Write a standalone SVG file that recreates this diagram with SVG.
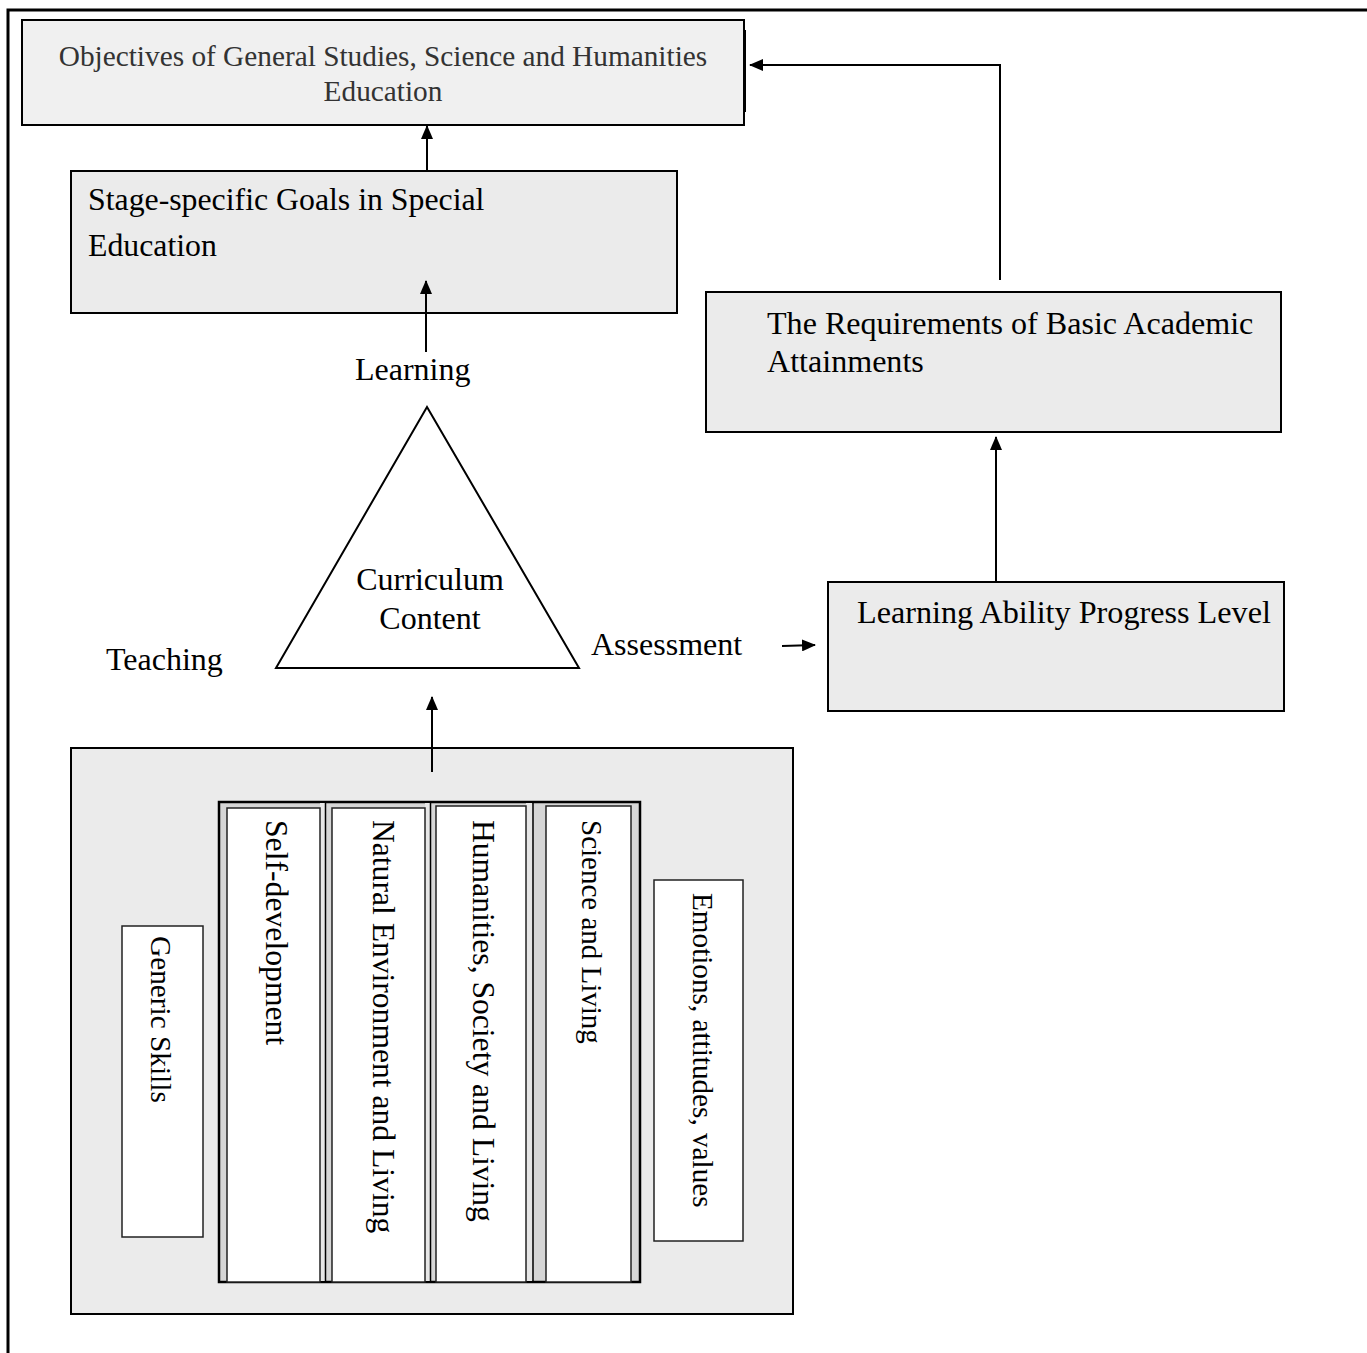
<svg xmlns="http://www.w3.org/2000/svg" width="1367" height="1353" viewBox="0 0 1367 1353">
<defs>
<marker id="ah" viewBox="0 0 14 12" refX="13" refY="6" markerWidth="14" markerHeight="12" markerUnits="userSpaceOnUse" orient="auto">
<path d="M0,0 L14,6 L0,12 Z" fill="#000"/>
</marker>
<style>
.t{font-family:"Liberation Serif","Times New Roman",serif;fill:#000;}
.box{fill:#ebebeb;stroke:#000;stroke-width:2;}
.wb{fill:#fff;stroke:#222;stroke-width:1.5;}
.conn{fill:none;stroke:#000;stroke-width:2;}
</style>
</defs>
<rect width="1367" height="1353" fill="#fff"/>
<rect x="8" y="10" width="1380" height="1370" fill="none" stroke="#000" stroke-width="3"/>

<g id="objectives">
<rect x="22" y="20" width="722" height="105" fill="#f0f0f0" stroke="#000" stroke-width="2"/>
<line x1="745" y1="30" x2="745" y2="112" stroke="#000" stroke-width="2"/>
<text class="t" x="383" y="66" font-size="29.3" text-anchor="middle" style="fill:#333">Objectives of General Studies, Science and Humanities</text>
<text class="t" x="383" y="101" font-size="29.3" text-anchor="middle" style="fill:#333">Education</text>
</g>

<g id="stage-goals">
<rect class="box" x="71" y="171" width="606" height="142"/>
<text class="t" x="88" y="210" font-size="31.8">Stage-specific Goals in Special</text>
<text class="t" x="88" y="256" font-size="31.8">Education</text>
</g>

<g id="learning-label">
<text class="t" x="355" y="380" font-size="32">Learning</text>
</g>

<g id="curriculum">
<polygon points="427,407 276,668 579,668" fill="#fff" stroke="#000" stroke-width="2"/>
<text class="t" x="430" y="590" font-size="32" text-anchor="middle">Curriculum</text>
<text class="t" x="430" y="629" font-size="32" text-anchor="middle">Content</text>
</g>

<g id="teaching-label">
<text class="t" x="106" y="670" font-size="32">Teaching</text>
</g>

<g id="assessment-label">
<text class="t" x="591" y="655" font-size="32">Assessment</text>
</g>

<g id="requirements">
<rect class="box" x="706" y="292" width="575" height="140"/>
<text class="t" x="767" y="334" font-size="32.1">The Requirements of Basic Academic</text>
<text class="t" x="767" y="372" font-size="32.1">Attainments</text>
</g>

<g id="progress-level">
<rect class="box" x="828" y="582" width="456" height="129"/>
<text class="t" x="857" y="623" font-size="32.2">Learning Ability Progress Level</text>
</g>

<g id="kla-container">
<rect class="box" x="71" y="748" width="722" height="566"/>
<rect x="219" y="802" width="421" height="480" fill="#d6d6d6" stroke="#000" stroke-width="2.5"/>
<rect x="320" y="803" width="5" height="478" fill="#e6e6e6"/>
<rect x="425" y="803" width="5" height="478" fill="#e6e6e6"/>
<rect x="526" y="803" width="6" height="478" fill="#e6e6e6"/>
<line x1="325.5" y1="802" x2="325.5" y2="1282" stroke="#000" stroke-width="1.5"/>
<line x1="430.5" y1="802" x2="430.5" y2="1282" stroke="#000" stroke-width="1.5"/>
<line x1="533" y1="802" x2="533" y2="1282" stroke="#000" stroke-width="1.5"/>
</g>

<g id="generic-skills">
<rect class="wb" x="122" y="926" width="81" height="311"/>
<text class="t" transform="translate(151,936) rotate(90)" font-size="29.3">Generic Skills</text>
</g>

<g id="self-development">
<rect class="wb" x="227" y="808" width="93" height="474"/>
<text class="t" transform="translate(266,820) rotate(90)" font-size="31.7">Self-development</text>
</g>

<g id="natural-environment">
<rect class="wb" x="332" y="808" width="93" height="474"/>
<text class="t" transform="translate(373,820) rotate(90)" font-size="31.6">Natural Environment and Living</text>
</g>

<g id="humanities-society">
<rect class="wb" x="436" y="806" width="90" height="476"/>
<text class="t" transform="translate(473,820) rotate(90)" font-size="31.6">Humanities, Society and Living</text>
</g>

<g id="science-living">
<rect class="wb" x="546" y="806" width="85" height="476"/>
<text class="t" transform="translate(582,820) rotate(90)" font-size="29">Science and Living</text>
</g>

<g id="emotions">
<rect class="wb" x="654" y="880" width="89" height="361"/>
<text class="t" transform="translate(693,893) rotate(90)" font-size="29.2">Emotions, attitudes, values</text>
</g>

<g id="connectors">
<line class="conn" x1="427" y1="170" x2="427" y2="126" marker-end="url(#ah)"/>
<line class="conn" x1="426" y1="352" x2="426" y2="281" marker-end="url(#ah)"/>
<line class="conn" x1="432" y1="772" x2="432" y2="697" marker-end="url(#ah)"/>
<line class="conn" x1="782" y1="646" x2="815" y2="645" marker-end="url(#ah)"/>
<line class="conn" x1="996" y1="582" x2="996" y2="437" marker-end="url(#ah)"/>
<polyline class="conn" points="1000,280 1000,65 750,65" marker-end="url(#ah)"/>
</g>
</svg>
